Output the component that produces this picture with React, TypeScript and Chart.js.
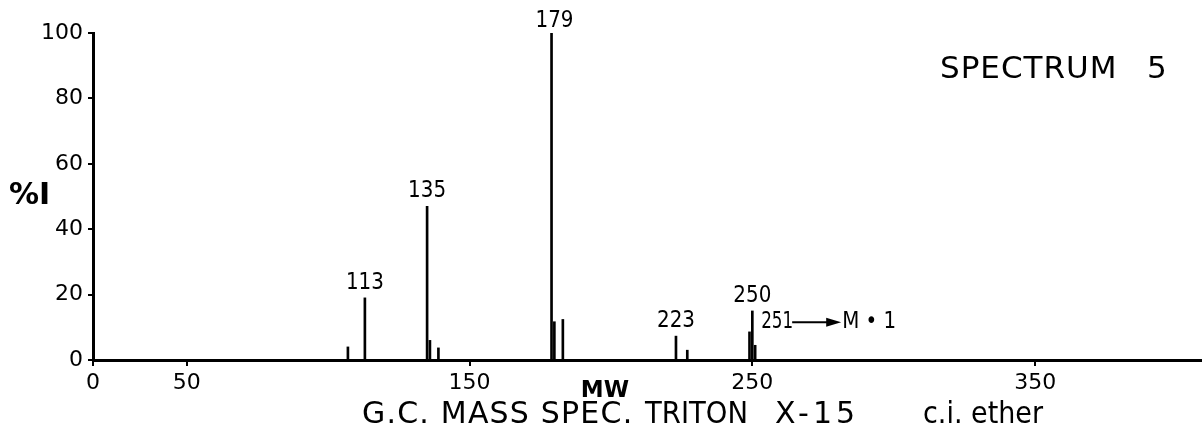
import React, { useEffect, useRef } from "react";
import { Chart, registerables, LinearScale } from "chart.js";

Chart.register(...registerables);

// ---- data ----
const MASSES = [107, 113, 135, 136, 139, 179, 180, 183, 223, 227, 249, 250, 251];
const INTENSITIES = [4, 19, 47, 6, 3.7, 100, 11.7, 12.4, 7.3, 3, 8.6, 15, 4.5];
const LABELLED_PEAKS = [113, 135, 179, 223, 250];
const X_TICKS = [0, 50, 150, 250, 350];
const Y_TICKS = [0, 20, 40, 60, 80, 100];
const X_MIN = 0;
const X_BREAK = 50;
const X_MAX = 409;
const M1_MASS = 251;
const M1_LEVEL = 7.3;
const M1_TEXT = "M • 1";
const SPECTRUM_WORD = "SPECTRUM";
const SPECTRUM_NUM = "5";
const Y_LABEL = "%I";
const X_LABEL = "MW";
const TITLE_PARTS = ["G.C. MASS SPEC.", "TRITON", "X-15", "c.i. ether"];

// ---- style / layout ----
const FONT = "'DejaVu Sans', sans-serif";
const BREAK_FRAC = 0.0845;
const TITLE_LEFTS = [362, 645, 775, 923];
const TITLE_SPACING = [1.2, 0, 4, 0];
const TITLE_MAXW = [275, 103, 100, 120];

class BrokenLinearScale extends LinearScale {
  static id = "brokenLinear";
  static defaults = LinearScale.defaults;
  valueToDecimal(v: number) {
    const min = this.min;
    const max = this.max;
    if (v <= X_BREAK) return ((v - min) / (X_BREAK - min)) * BREAK_FRAC;
    return BREAK_FRAC + ((v - X_BREAK) / (max - X_BREAK)) * (1 - BREAK_FRAC);
  }
  getPixelForValue(value: any) {
    if (value === null || value === undefined || isNaN(value)) return NaN;
    return this.getPixelForDecimal(this.valueToDecimal(+value));
  }
  getValueForPixel(pixel: number) {
    const d = this.getDecimalForPixel(pixel);
    const min = this.min;
    const max = this.max;
    if (d <= BREAK_FRAC) return min + (d / BREAK_FRAC) * (X_BREAK - min);
    return X_BREAK + ((d - BREAK_FRAC) / (1 - BREAK_FRAC)) * (max - X_BREAK);
  }
}
Chart.register(BrokenLinearScale as any);

const textPlugin = {
  id: "spectrumText",
  afterDraw(chart: any) {
    const ctx = chart.ctx;
    const xs = chart.scales.x;
    const ys = chart.scales.y;
    ctx.save();
    ctx.fillStyle = "#000";
    ctx.strokeStyle = "#000";
    ctx.textBaseline = "middle";

    // peak labels
    ctx.font = `23px ${FONT}`;
    ctx.textAlign = "center";
    LABELLED_PEAKS.forEach((m) => {
      const i = MASSES.indexOf(m);
      const x = xs.getPixelForValue(m) + (m === 179 ? 3 : 0);
      const y = ys.getPixelForValue(INTENSITIES[i]) - (m === 179 ? 12 : 15);
      ctx.fillText(String(m), x, y, 38);
    });

    // 251 -> M+1
    const my = ys.getPixelForValue(M1_LEVEL) - 14;
    const mx = xs.getPixelForValue(M1_MASS) + 6;
    ctx.textAlign = "left";
    ctx.fillText(String(M1_MASS), mx, my, 32);
    const aStart = mx + 31;
    const aEnd = aStart + 49;
    ctx.lineWidth = 2;
    ctx.beginPath();
    ctx.moveTo(aStart, my);
    ctx.lineTo(aEnd - 10, my);
    ctx.stroke();
    ctx.beginPath();
    ctx.moveTo(aEnd, my);
    ctx.lineTo(aEnd - 15, my - 4.5);
    ctx.lineTo(aEnd - 15, my + 4.5);
    ctx.closePath();
    ctx.fill();
    ctx.fillText(M1_TEXT, aEnd + 1, my, 54);

    // spectrum label
    ctx.font = `31px ${FONT}`;
    (ctx as any).letterSpacing = "1px";
    ctx.fillText(SPECTRUM_WORD, 940, 70, 180);
    (ctx as any).letterSpacing = "0px";
    ctx.fillText(SPECTRUM_NUM, 1147, 70);

    // y label
    ctx.font = `bold 30px ${FONT}`;
    ctx.fillText(Y_LABEL, 9, 196, 48);

    // x label
    ctx.font = `bold 23px ${FONT}`;
    ctx.textAlign = "center";
    ctx.fillText(X_LABEL, 605, 391);

    // bottom title
    ctx.font = `30px ${FONT}`;
    ctx.textAlign = "left";
    TITLE_PARTS.forEach((t, i) => {
      (ctx as any).letterSpacing = `${TITLE_SPACING[i]}px`;
      ctx.fillText(t, TITLE_LEFTS[i], 415, TITLE_MAXW[i]);
    });
    (ctx as any).letterSpacing = "0px";

    ctx.restore();
  },
};

export default function App() {
  const ref = useRef<HTMLCanvasElement | null>(null);
  useEffect(() => {
    if (!ref.current) return;
    const chart = new Chart(ref.current, {
      type: "bar",
      data: {
        datasets: [
          {
            data: MASSES.map((m, i) => ({ x: m, y: INTENSITIES[i] })),
            backgroundColor: "#000",
            borderWidth: 0,
            barThickness: 2,
          } as any,
        ],
      },
      options: {
        animation: false,
        responsive: false,
        devicePixelRatio: 1,
        layout: { padding: { top: 33, left: 0, right: 0, bottom: 0 } },
        plugins: { legend: { display: false }, tooltip: { enabled: false }, title: { display: false } },
        scales: {
          x: {
            type: "brokenLinear" as any,
            min: X_MIN,
            max: X_MAX,
            offset: false,
            afterBuildTicks: (axis: any) => {
              axis.ticks = X_TICKS.map((v) => ({ value: v }));
            },
            afterFit: (axis: any) => {
              axis.height = 85;
            },
            grid: {
              display: true,
              offset: false,
              drawOnChartArea: false,
              drawTicks: true,
              tickLength: 6,
              color: "#000",
              lineWidth: 2,
            },
            border: { display: true, color: "#000", width: 3 },
            ticks: {
              autoSkip: false,
              maxRotation: 0,
              color: "#000",
              padding: 4,
              font: { family: FONT, size: 22 },
              callback: (v: any) => String(v),
            },
          },
          y: {
            type: "linear",
            min: 0,
            max: 100,
            afterBuildTicks: (axis: any) => {
              axis.ticks = Y_TICKS.map((v) => ({ value: v }));
            },
            afterFit: (axis: any) => {
              axis.width = 93;
            },
            grid: {
              display: true,
              drawOnChartArea: false,
              drawTicks: true,
              tickLength: 5,
              color: "#000",
              lineWidth: 2,
            },
            border: { display: true, color: "#000", width: 3 },
            ticks: {
              color: "#000",
              padding: 5,
              font: { family: FONT, size: 22 },
              callback: (v: any) => String(v),
            },
          },
        },
      },
      plugins: [textPlugin],
    });
    return () => chart.destroy();
  }, []);

  return (
    <div style={{ position: "fixed", left: 0, top: 0, width: 1202, height: 445, background: "#fff" }}>
      <canvas ref={ref} width={1202} height={445} style={{ width: 1202, height: 445, display: "block" }} />
    </div>
  );
}
